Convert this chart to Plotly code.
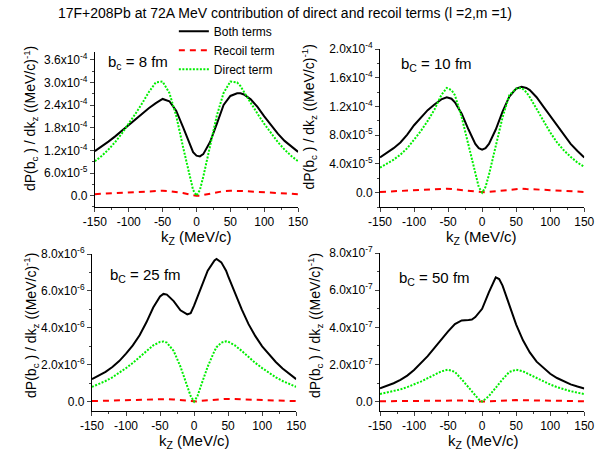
import plotly.graph_objects as go

# ---------------- data ----------------
k1 = [-150, -140, -130, -120, -110, -100, -90, -80, -70, -60, -50, -40, -30, -20, -10, -5, 0, 5, 10, 20, 30, 40, 50, 60, 65, 70, 80, 90, 100, 110, 120, 130, 140, 150]
both1 = [1.18, 1.30, 1.43, 1.57, 1.72, 1.88, 2.03, 2.18, 2.32, 2.45, 2.56, 2.50, 2.25, 1.82, 1.35, 1.15, 1.06, 1.04, 1.10, 1.42, 1.90, 2.40, 2.64, 2.71, 2.71, 2.68, 2.55, 2.35, 2.10, 1.86, 1.64, 1.45, 1.30, 1.16]
direct1 = [0.91, 1.05, 1.22, 1.42, 1.65, 1.90, 2.17, 2.45, 2.75, 3.00, 3.02, 2.72, 2.12, 1.30, 0.50, 0.15, 0.0, 0.15, 0.50, 1.30, 2.12, 2.72, 3.02, 3.00, 2.90, 2.75, 2.45, 2.17, 1.90, 1.65, 1.42, 1.22, 1.05, 0.91]
recoil1 = [0.04, 0.05, 0.06, 0.07, 0.08, 0.09, 0.10, 0.11, 0.12, 0.13, 0.13, 0.12, 0.10, 0.07, 0.03, 0.01, 0.0, 0.0, 0.02, 0.05, 0.09, 0.12, 0.13, 0.13, 0.13, 0.12, 0.11, 0.10, 0.09, 0.08, 0.07, 0.06, 0.05, 0.04]

k2 = [-150, -140, -130, -120, -110, -100, -90, -80, -70, -60, -52, -45, -40, -30, -20, -10, -5, 0, 5, 10, 20, 30, 40, 50, 58, 65, 70, 80, 90, 100, 110, 120, 130, 140, 150]
both2 = [0.49, 0.55, 0.62, 0.70, 0.81, 0.94, 1.05, 1.15, 1.23, 1.30, 1.33, 1.31, 1.26, 1.10, 0.88, 0.68, 0.62, 0.60, 0.62, 0.68, 0.88, 1.13, 1.34, 1.45, 1.475, 1.46, 1.43, 1.33, 1.20, 1.07, 0.93, 0.80, 0.68, 0.58, 0.49]
direct2 = [0.35, 0.40, 0.46, 0.53, 0.62, 0.74, 0.86, 1.00, 1.16, 1.36, 1.46, 1.43, 1.36, 1.05, 0.65, 0.25, 0.08, 0.0, 0.08, 0.25, 0.65, 1.05, 1.36, 1.45, 1.46, 1.40, 1.33, 1.17, 1.00, 0.84, 0.70, 0.59, 0.50, 0.42, 0.36]
recoil2 = [0.01, 0.015, 0.02, 0.025, 0.03, 0.035, 0.04, 0.045, 0.05, 0.055, 0.055, 0.05, 0.045, 0.035, 0.02, 0.01, 0.003, 0.0, 0.003, 0.01, 0.02, 0.035, 0.045, 0.055, 0.055, 0.05, 0.05, 0.045, 0.04, 0.035, 0.03, 0.025, 0.02, 0.015, 0.01]

k3 = [-150, -140, -130, -120, -110, -100, -90, -80, -70, -60, -50, -45, -40, -30, -20, -10, -5, 0, 5, 10, 20, 30, 33, 40, 47, 50, 60, 70, 80, 90, 100, 110, 120, 130, 140, 150]
both3 = [1.22, 1.40, 1.62, 1.88, 2.20, 2.60, 3.05, 3.60, 4.30, 5.10, 5.70, 5.84, 5.80, 5.45, 4.95, 4.73, 4.80, 5.20, 5.70, 6.20, 7.10, 7.65, 7.73, 7.55, 7.10, 6.80, 5.85, 5.00, 4.20, 3.55, 3.00, 2.55, 2.15, 1.80, 1.50, 1.22]
direct3 = [0.80, 0.95, 1.12, 1.32, 1.55, 1.82, 2.10, 2.40, 2.75, 3.05, 3.24, 3.26, 3.20, 2.75, 1.90, 0.85, 0.30, 0.0, 0.30, 0.85, 1.90, 2.75, 2.95, 3.20, 3.27, 3.25, 3.05, 2.75, 2.40, 2.10, 1.82, 1.55, 1.32, 1.12, 0.95, 0.80]
recoil3 = [0.03, 0.04, 0.05, 0.06, 0.08, 0.09, 0.11, 0.12, 0.13, 0.14, 0.15, 0.15, 0.14, 0.12, 0.08, 0.04, 0.01, 0.0, 0.01, 0.04, 0.08, 0.12, 0.13, 0.14, 0.15, 0.15, 0.14, 0.13, 0.12, 0.11, 0.09, 0.08, 0.06, 0.05, 0.04, 0.03]

k4 = [-150, -140, -130, -120, -110, -100, -90, -80, -70, -60, -50, -40, -30, -20, -15, -10, -5, 0, 10, 20, 25, 30, 40, 50, 60, 70, 80, 90, 100, 110, 120, 130, 140, 150]
both4 = [0.71, 0.84, 0.99, 1.17, 1.40, 1.70, 2.05, 2.45, 2.90, 3.35, 3.78, 4.18, 4.37, 4.40, 4.42, 4.55, 4.75, 5.00, 5.90, 6.69, 6.60, 6.25, 5.20, 4.15, 3.30, 2.65, 2.15, 1.80, 1.50, 1.27, 1.08, 0.93, 0.81, 0.71]
direct4 = [0.41, 0.48, 0.56, 0.66, 0.78, 0.92, 1.08, 1.26, 1.45, 1.63, 1.72, 1.60, 1.20, 0.75, 0.52, 0.30, 0.12, 0.0, 0.30, 0.75, 0.98, 1.20, 1.60, 1.72, 1.63, 1.45, 1.26, 1.08, 0.92, 0.78, 0.66, 0.56, 0.48, 0.41]
recoil4 = [0.02, 0.025, 0.03, 0.035, 0.04, 0.045, 0.05, 0.06, 0.07, 0.075, 0.08, 0.075, 0.06, 0.04, 0.03, 0.02, 0.01, 0.0, 0.02, 0.04, 0.05, 0.06, 0.075, 0.08, 0.075, 0.07, 0.06, 0.05, 0.045, 0.04, 0.035, 0.03, 0.025, 0.02]

scales = [1e-4, 1e-4, 1e-6, 1e-7]
labels_bc = ["b<sub>c</sub> = 8 fm", "b<sub>C</sub> = 10 fm", "b<sub>C</sub> = 25 fm", "b<sub>C</sub> = 50 fm"]

xticks = [-150, -100, -50, 0, 50, 100, 150]
xticktext = ["-150", "-100", "-50", "0", "50", "100", "150"]

yt1 = [0, 6e-5, 1.2e-4, 1.8e-4, 2.4e-4, 3.0e-4, 3.6e-4]
ytt1 = ["0.0", "6.0x10<sup>-5</sup>", "1.2x10<sup>-4</sup>", "1.8x10<sup>-4</sup>", "2.4x10<sup>-4</sup>", "3.0x10<sup>-4</sup>", "3.6x10<sup>-4</sup>"]
yt2 = [0, 4e-5, 8e-5, 1.2e-4, 1.6e-4, 2.0e-4]
ytt2 = ["0.0", "4.0x10<sup>-5</sup>", "8.0x10<sup>-5</sup>", "1.2x10<sup>-4</sup>", "1.6x10<sup>-4</sup>", "2.0x10<sup>-4</sup>"]
yt3 = [0, 2e-6, 4e-6, 6e-6, 8e-6]
ytt3 = ["0.0", "2.0x10<sup>-6</sup>", "4.0x10<sup>-6</sup>", "6.0x10<sup>-6</sup>", "8.0x10<sup>-6</sup>"]
yt4 = [0, 2e-7, 4e-7, 6e-7, 8e-7]
ytt4 = ["0.0", "2.0x10<sup>-7</sup>", "4.0x10<sup>-7</sup>", "6.0x10<sup>-7</sup>", "8.0x10<sup>-7</sup>"]

# ---------------- layout geometry ----------------
W, H = 601, 455
FONT = "Liberation Sans, Arial, sans-serif"

def px(x):
    return x / W

def py(y):
    return 1 - y / H

panels = [
    dict(k=k1, b=both1, d=direct1, r=recoil1, xd=(86, 297), yd=(44, 202), yr=(-3e-5, 3.8e-4), yt=yt1, ytt=ytt1, ym=3e-5,
         ytitle=(19, 112), xtitle=(191, 233), lab=(98, 55)),
    dict(k=k2, b=both2, d=direct2, r=recoil2, xd=(382, 594), yd=(41, 202), yr=(-2e-5, 2.0e-4), yt=yt2, ytt=ytt2, ym=2e-5,
         ytitle=(308, 110), xtitle=(487, 233), lab=(402, 57)),
    dict(k=k3, b=both3, d=direct3, r=recoil3, xd=(83, 295), yd=(250, 410), yr=(-5e-7, 8e-6), yt=yt3, ytt=ytt3, ym=1e-6,
         ytitle=(19, 323), xtitle=(189, 441), lab=(100, 272)),
    dict(k=k4, b=both4, d=direct4, r=recoil4, xd=(382, 594), yd=(249, 410), yr=(-5e-8, 8e-7), yt=yt4, ytt=ytt4, ym=1e-7,
         ytitle=(314, 323), xtitle=(489, 441), lab=(400, 275)),
]

fig = go.Figure()
annotations = []
layout = {}
for i, p in enumerate(panels):
    n = i + 1
    xa = "x" if n == 1 else f"x{n}"
    ya = "y" if n == 1 else f"y{n}"
    s = scales[i]
    show = (n == 1)
    fig.add_trace(go.Scatter(x=p["k"], y=[v * s for v in p["b"]], xaxis=xa, yaxis=ya, mode="lines",
                             line=dict(color="black", width=2), name="Both terms", showlegend=show, legendrank=1))
    fig.add_trace(go.Scatter(x=p["k"], y=[v * s for v in p["r"]], xaxis=xa, yaxis=ya, mode="lines",
                             line=dict(color="#ff0000", width=2, dash="6px,5px"), name="Recoil term", showlegend=show, legendrank=2))
    fig.add_trace(go.Scatter(x=p["k"], y=[v * s for v in p["d"]], xaxis=xa, yaxis=ya, mode="lines",
                             line=dict(color="#00ee00", width=2, dash="2px,1.5px"), name="Direct term", showlegend=show, legendrank=3))
    xkey = "xaxis" if n == 1 else f"xaxis{n}"
    ykey = "yaxis" if n == 1 else f"yaxis{n}"
    layout[xkey] = dict(domain=[px(p["xd"][0]), px(p["xd"][1])], anchor=ya, range=[-150, 150],
                        tickvals=xticks, ticktext=xticktext, ticks="outside", ticklen=4, tickwidth=1,
                        minor=dict(dtick=25, tick0=0, ticks="outside", ticklen=2, tickwidth=1, showgrid=False),
                        showline=True, linecolor="black", linewidth=1, showgrid=False, zeroline=False,
                        tickfont=dict(family=FONT, size=12, color="black"))
    layout[ykey] = dict(domain=[py(p["yd"][1]), py(p["yd"][0])], anchor=xa, range=list(p["yr"]),
                        tickvals=p["yt"], ticktext=p["ytt"], ticks="outside", ticklen=4, tickwidth=1,
                        minor=dict(dtick=p["ym"], tick0=0, ticks="outside", ticklen=2, tickwidth=1, showgrid=False),
                        showline=True, linecolor="black", linewidth=1, showgrid=False, zeroline=False,
                        tickfont=dict(family=FONT, size=12, color="black"))
    annotations.append(dict(text="dP(b<sub>c</sub> ) / dk<sub>z</sub> ((MeV/c)<sup>-1</sup>)", textangle=-90,
                            x=px(p["ytitle"][0]), y=py(p["ytitle"][1]), xref="paper", yref="paper",
                            xanchor="center", yanchor="middle", showarrow=False,
                            font=dict(family=FONT, size=14, color="black")))
    annotations.append(dict(text="k<sub>Z</sub> (MeV/c)", x=px(p["xtitle"][0]), y=py(p["xtitle"][1]),
                            xref="paper", yref="paper", xanchor="center", yanchor="middle", showarrow=False,
                            font=dict(family=FONT, size=15, color="black")))
    annotations.append(dict(text=labels_bc[i], x=px(p["lab"][0]), y=py(p["lab"][1]), xref="paper", yref="paper",
                            xanchor="left", yanchor="middle", showarrow=False,
                            font=dict(family=FONT, size=15, color="black")))

fig.update_layout(
    width=W, height=H, margin=dict(l=0, r=0, t=0, b=0),
    paper_bgcolor="white", plot_bgcolor="white",
    title=dict(text="17F+208Pb at 72A MeV contribution of direct and recoil terms (l =2,m =1)",
               x=285 / W, y=1 - 13 / H, xanchor="center", yanchor="middle",
               font=dict(family=FONT, size=14, color="black")),
    legend=dict(x=px(168), y=py(8), xanchor="left", yanchor="top", bgcolor="rgba(0,0,0,0)",
                font=dict(family=FONT, size=12, color="black"), itemwidth=30, tracegroupgap=0),
    annotations=annotations,
    **layout,
)

fig.write_html("out.html", config={"displayModeBar": False},
               post_script="document.body.style.margin='0';document.body.style.padding='0';")
